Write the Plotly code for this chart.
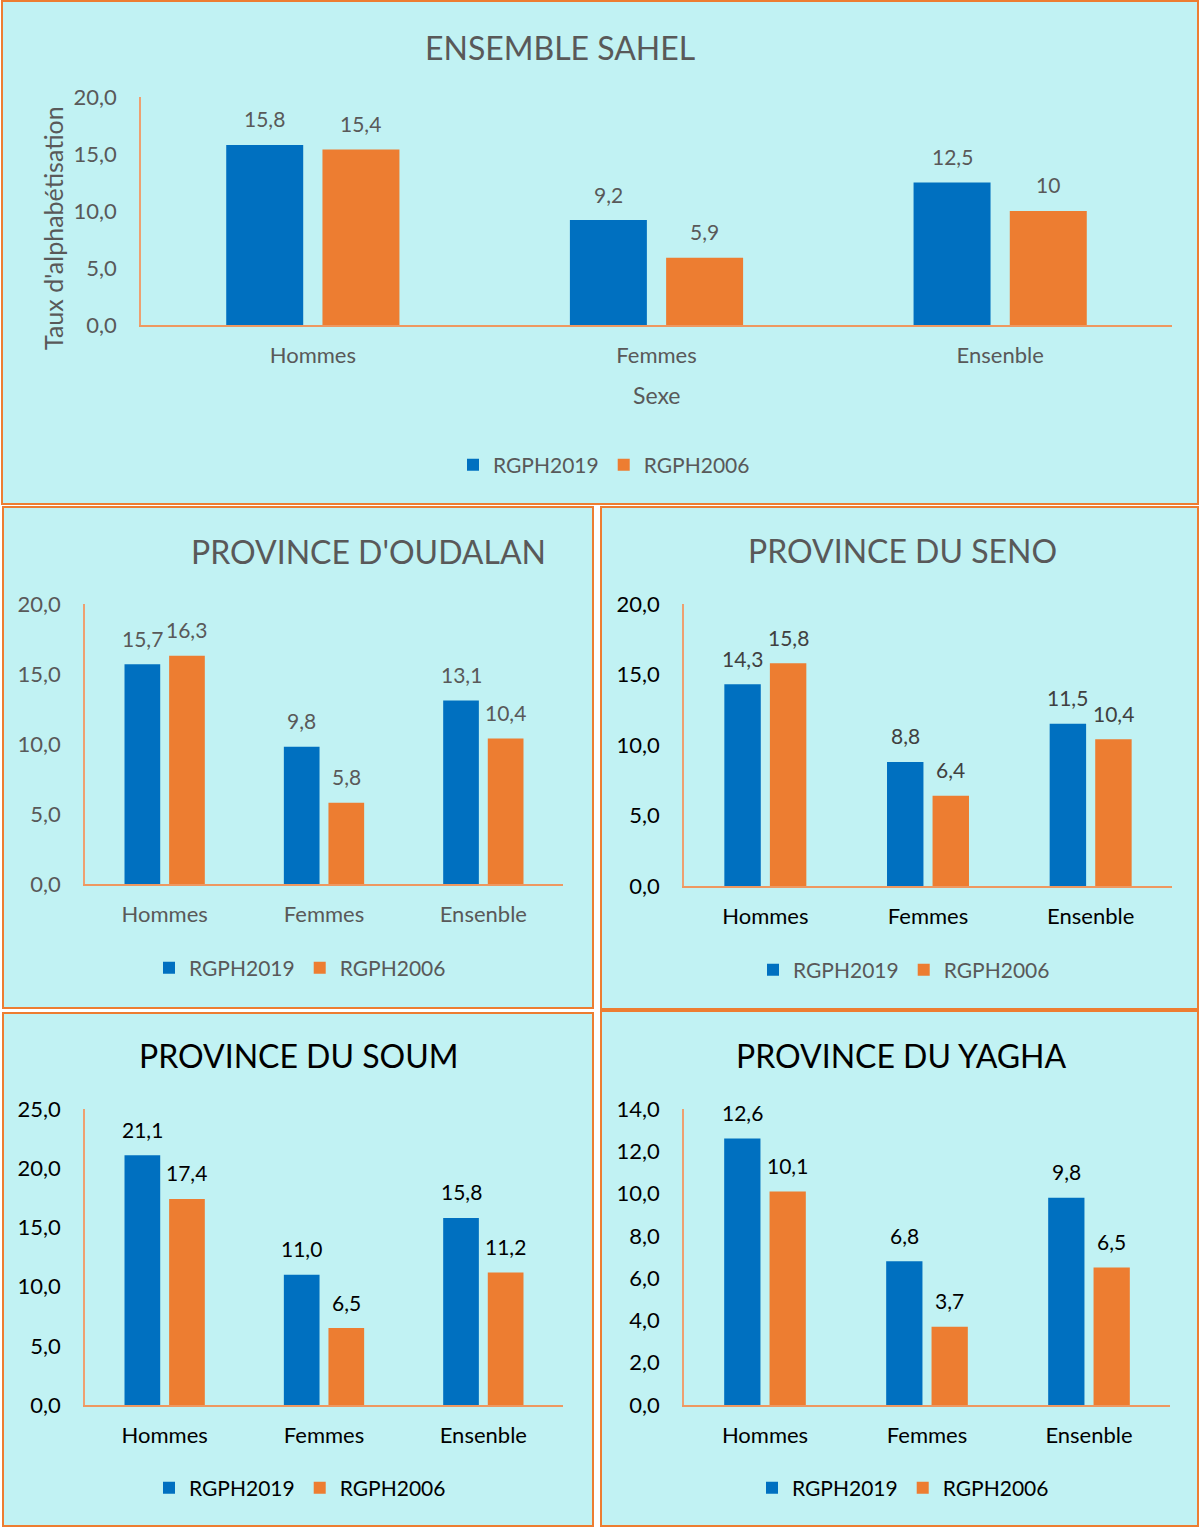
import plotly.graph_objects as go

W, H = 1200, 1528
FONT = "Lato"

categories = ["Hommes", "Femmes", "Ensenble"]
series_names = ["RGPH2019", "RGPH2006"]

sahel_2019 = [15.8, 9.2, 12.5]
sahel_2006 = [15.4, 5.9, 10]
oudalan_2019 = [15.7, 9.8, 13.1]
oudalan_2006 = [16.3, 5.8, 10.4]
seno_2019 = [14.3, 8.8, 11.5]
seno_2006 = [15.8, 6.4, 10.4]
soum_2019 = [21.1, 11.0, 15.8]
soum_2006 = [17.4, 6.5, 11.2]
yagha_2019 = [12.6, 6.8, 9.8]
yagha_2006 = [10.1, 3.7, 6.5]

BLUE = "#0070C0"
ORANGE = "#ED7D31"
BG = "#C1F2F3"
GRAY = "#595959"
BLACK = "#000000"
BARGAP = 0.44
GROUPGAP = 0.2


def fx(px):
    return px / W


def fy(py):
    return 1 - py / H


def fmt_general(v):
    s = ("%g" % v)
    return s.replace(".", ",")


def fmt_1(v):
    return ("%.1f" % v).replace(".", ",")


panels = [
    dict(title="ENSEMBLE SAHEL", s19=sahel_2019, s06=sahel_2006, fmt=fmt_general,
         box=(2, 1, 1198, 504), xdom=(141, 1172), ydom=(325, 97), ymax=20, dtick=5,
         title_xy=(560, 47), legend_xy=(604, 465), tcol=GRAY, tickcol=GRAY, catcol=GRAY,
         valcol=GRAY, legcol=GRAY, ytitle=True, xtitle=True),
    dict(title="PROVINCE D'OUDALAN", s19=oudalan_2019, s06=oudalan_2006, fmt=fmt_1,
         box=(3, 507, 593, 1008), xdom=(85, 563), ydom=(884, 604), ymax=20, dtick=5,
         title_xy=(368, 551), legend_xy=(300, 968), tcol=GRAY, tickcol=GRAY, catcol=GRAY,
         valcol=GRAY, legcol=GRAY),
    dict(title="PROVINCE DU SENO", s19=seno_2019, s06=seno_2006, fmt=fmt_1,
         box=(601, 507, 1198, 1009), xdom=(684, 1172), ydom=(886, 604), ymax=20, dtick=5,
         title_xy=(902, 550), legend_xy=(904, 970), tcol=GRAY, tickcol=BLACK, catcol=BLACK,
         valcol="#404040", legcol=GRAY),
    dict(title="PROVINCE DU SOUM", s19=soum_2019, s06=soum_2006, fmt=fmt_1,
         box=(3, 1013, 593, 1526), xdom=(85, 563), ydom=(1405, 1109), ymax=25, dtick=5,
         title_xy=(298, 1055), legend_xy=(300, 1488), tcol=BLACK, tickcol=BLACK, catcol=BLACK,
         valcol=BLACK, legcol=BLACK),
    dict(title="PROVINCE DU YAGHA", s19=yagha_2019, s06=yagha_2006, fmt=fmt_1,
         box=(601, 1011, 1198, 1526), xdom=(684, 1170), ydom=(1405, 1109), ymax=14, dtick=2,
         title_xy=(901, 1055), legend_xy=(903, 1488), tcol=BLACK, tickcol=BLACK, catcol=BLACK,
         valcol=BLACK, legcol=BLACK),
]

fig = go.Figure()
shapes = []
annotations = []
layout_extra = {}

for i, p in enumerate(panels):
    n = i + 1
    sfx = "" if n == 1 else str(n)
    xa, ya = "x" + sfx, "y" + sfx
    leg = "legend" + sfx

    x0, y0, x1, y1 = p["box"]
    shapes.append(dict(type="rect", xref="paper", yref="paper", layer="below",
                       x0=fx(x0), x1=fx(x1), y0=fy(y1), y1=fy(y0),
                       fillcolor=BG, line=dict(color=ORANGE, width=2)))

    for name, vals, col in [(series_names[0], p["s19"], BLUE), (series_names[1], p["s06"], ORANGE)]:
        fig.add_trace(go.Bar(x=categories, y=vals, name=name, marker=dict(color=col, line=dict(width=0)),
                             xaxis=xa, yaxis=ya, legend=leg, hoverinfo="x+y"))

    xd0, xd1 = p["xdom"]
    cat_px = (xd1 - xd0) / 3
    slot = cat_px * (1 - BARGAP) / 2
    for vals, shift in [(p["s19"], -slot / 2), (p["s06"], slot / 2)]:
        for c, v in zip(categories, vals):
            annotations.append(dict(x=c, y=v, xref=xa, yref=ya, text=p["fmt"](v), showarrow=False,
                                    xshift=shift, yshift=26, yanchor="middle",
                                    font=dict(family=FONT, size=21, color=p["valcol"])))

    annotations.append(dict(x=fx(p["title_xy"][0]), y=fy(p["title_xy"][1]), xref="paper", yref="paper",
                            text=p["title"], showarrow=False, xanchor="center", yanchor="middle",
                            font=dict(family=FONT, size=32, color=p["tcol"])))

    if p.get("ytitle"):
        annotations.append(dict(x=fx(53), y=fy(228), xref="paper", yref="paper",
                                text="Taux d'alphabétisation", textangle=-90, showarrow=False,
                                xanchor="center", yanchor="middle",
                                font=dict(family=FONT, size=25, color=GRAY)))
    if p.get("xtitle"):
        annotations.append(dict(x=fx(656), y=fy(395), xref="paper", yref="paper",
                                text="Sexe", showarrow=False, xanchor="center", yanchor="middle",
                                font=dict(family=FONT, size=23, color=GRAY)))

    yd0, yd1 = p["ydom"]
    layout_extra["xaxis" + sfx] = dict(domain=[fx(xd0), fx(xd1)], anchor=ya, type="category",
                                       range=[-0.5, 2.5], showline=True, linecolor="#EE9860",
                                       linewidth=1.5, showgrid=False, ticks="", ticklabelstandoff=10,
                                       tickfont=dict(family=FONT, size=22, color=p["catcol"]),
                                       automargin=False, fixedrange=True)
    layout_extra["yaxis" + sfx] = dict(domain=[fy(yd0), fy(yd1)], anchor=xa, range=[0, p["ymax"]],
                                       dtick=p["dtick"], tick0=0, tickformat=".1f", showline=True,
                                       linecolor="#EEA070", linewidth=1.5, showgrid=False,
                                       zeroline=False, ticks="", ticklabelstandoff=18,
                                       tickfont=dict(family=FONT, size=22, color=p["tickcol"]),
                                       automargin=False, fixedrange=True)
    layout_extra[leg] = dict(orientation="h", x=fx(p["legend_xy"][0]), y=fy(p["legend_xy"][1]),
                             xanchor="center", yanchor="middle", bgcolor="rgba(0,0,0,0)",
                             font=dict(family=FONT, size=21, color=p["legcol"]),
                             itemclick=False, itemdoubleclick=False)

fig.update_layout(
    width=W, height=H, margin=dict(l=0, r=0, t=0, b=0, pad=0, autoexpand=False),
    paper_bgcolor="white", plot_bgcolor="rgba(0,0,0,0)",
    barmode="group", bargap=BARGAP, bargroupgap=GROUPGAP,
    separators=", ", showlegend=True,
    shapes=shapes, annotations=annotations,
    font=dict(family=FONT),
    **layout_extra,
)

fig.write_html("out.html", config={"displayModeBar": False},
               post_script="document.body.style.margin='0';")
